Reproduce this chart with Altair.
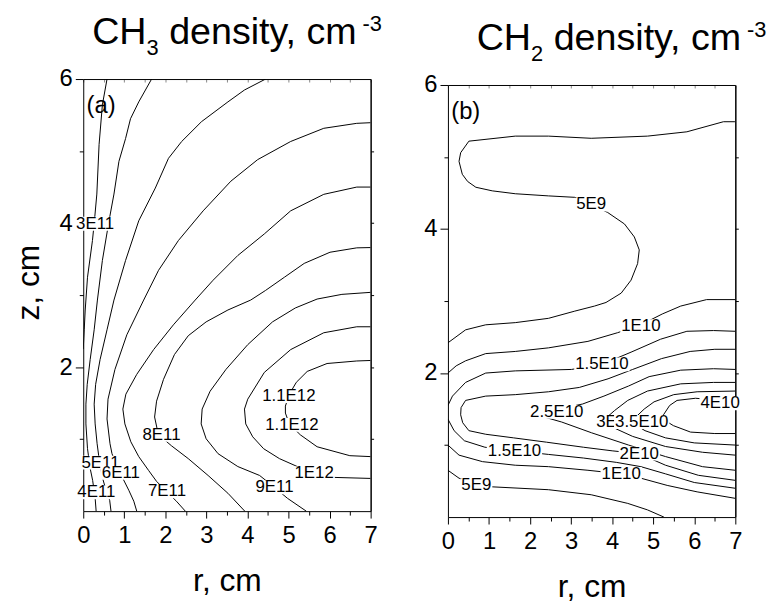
import altair as alt
import pandas as pd

# ---------------------------------------------------------------
# Contour lines of the two density maps, points given as (r, z) in cm
# ---------------------------------------------------------------

# CH3 density, panel (a)
ch3_3e11 = [(0.579, 6.0), (0.466, 5.642), (0.386, 5.092), (0.331, 4.403), (0.266, 3.991),
            (0.224, 3.757), (0.104, 3.248), (0.048, 2.793), (0.024, 2.518), (0.0, 2.25)]
ch3_4e11 = [(1.665, 6.0), (1.352, 5.683), (1.151, 5.449), (1.031, 5.174), (0.869, 4.857),
            (0.748, 4.403), (0.628, 4.032), (0.466, 3.481), (0.345, 2.931), (0.266, 2.518),
            (0.169, 2.105), (0.097, 1.761), (0.065, 1.486), (0.065, 1.211), (0.104, 0.867),
            (0.169, 0.592), (0.229, 0.427), (0.29, 0.179), (0.314, 0.0)]
ch3_5e11 = [(4.441, 6.0), (3.927, 5.848), (3.524, 5.683), (2.88, 5.408), (2.397, 5.133),
            (2.076, 4.899), (1.755, 4.486), (1.352, 4.032), (1.031, 3.481), (0.748, 2.931),
            (0.579, 2.518), (0.41, 2.105), (0.302, 1.761), (0.266, 1.486), (0.29, 1.211),
            (0.338, 0.936), (0.386, 0.729), (0.459, 0.482), (0.555, 0.289), (0.644, 0.151),
            (0.676, 0.0)]
ch3_6e11 = [(7.0, 5.394), (6.662, 5.385), (5.858, 5.316), (5.052, 5.133), (4.248, 4.881),
            (3.596, 4.582), (2.921, 4.17), (2.317, 3.757), (1.834, 3.344), (1.472, 2.931),
            (1.062, 2.449), (0.772, 1.968), (0.603, 1.555), (0.579, 1.28), (0.652, 0.936),
            (0.70, 0.798), (0.821, 0.619), (0.965, 0.454), (1.11, 0.289), (1.231, 0.138),
            (1.303, 0.0)]
ch3_7e11 = [(7.0, 4.50), (6.662, 4.50), (5.858, 4.399), (5.052, 4.17), (4.41, 3.849),
            (3.765, 3.55), (3.162, 3.206), (2.727, 2.931), (2.196, 2.587), (1.714, 2.243),
            (1.303, 1.899), (1.038, 1.624), (0.965, 1.417), (1.014, 1.211), (1.159, 0.963),
            (1.352, 0.757), (1.593, 0.564), (1.786, 0.413), (2.028, 0.275), (2.269, 0.138),
            (2.486, 0.0)]
ch3_8e11 = [(7.0, 3.66), (6.662, 3.656), (6.01, 3.595), (5.382, 3.44), (4.90, 3.248),
            (4.441, 3.065), (4.079, 2.931), (3.524, 2.793), (2.993, 2.628), (2.558, 2.436),
            (2.221, 2.174), (1.955, 1.83), (1.786, 1.527), (1.738, 1.307), (1.81, 1.114),
            (1.979, 0.99), (2.148, 0.908), (2.558, 0.729), (3.041, 0.495), (3.524, 0.248),
            (3.934, 0.0)]
ch3_9e11 = [(7.0, 3.038), (6.30, 3.01), (5.696, 2.945), (5.165, 2.821), (4.61, 2.628),
            (4.007, 2.312), (3.476, 1.968), (3.09, 1.665), (2.896, 1.417), (2.872, 1.211),
            (2.993, 1.005), (3.283, 0.798), (3.765, 0.619), (4.296, 0.495), (4.658, 0.33),
            (4.972, 0.179), (5.431, 0.0)]
ch3_1e12 = [(7.0, 2.56), (6.662, 2.56), (5.858, 2.477), (5.052, 2.243), (4.41, 1.926),
            (4.007, 1.555), (3.927, 1.417), (3.958, 1.211), (4.128, 1.032), (4.393, 0.867),
            (4.779, 0.729), (5.214, 0.619), (5.624, 0.523), (6.131, 0.468), (7.0, 0.454)]
ch3_11e12 = [(7.0, 2.092), (6.662, 2.085), (5.938, 2.05), (5.455, 1.94), (5.19, 1.789),
             (5.02, 1.624), (4.924, 1.459), (4.924, 1.362), (5.02, 1.211), (5.286, 1.06),
             (5.696, 0.894), (6.493, 0.77), (7.0, 0.757)]

ch3_lines = [ch3_3e11, ch3_4e11, ch3_5e11, ch3_6e11, ch3_7e11,
             ch3_8e11, ch3_9e11, ch3_1e12, ch3_11e12]

ch3_label_text = ["3E11", "4E11", "5E11", "6E11", "7E11", "8E11",
                  "9E11", "1E12", "1.1E12", "1.1E12"]
ch3_label_r = [0.29, 0.32, 0.42, 0.917, 2.04, 1.907, 4.658, 5.624, 5.008, 5.081]
ch3_label_z = [3.991, 0.26, 0.674, 0.53, 0.275, 1.06, 0.33, 0.523, 1.596, 1.197]
ch3_label_front = [False, False, False, True, False, False, False, False, False, False]

# CH2 density, panel (b)
ch2_5e9_up = [(6.99, 5.49), (6.71, 5.49), (5.82, 5.35), (4.86, 5.29), (3.49, 5.26),
              (2.45, 5.29), (1.64, 5.29), (0.51, 5.22), (0.31, 5.06), (0.27, 4.94),
              (0.35, 4.76), (0.48, 4.66), (0.68, 4.58), (1.08, 4.53), (1.64, 4.49),
              (2.45, 4.46), (3.09, 4.44), (3.89, 4.23), (4.30, 4.07), (4.54, 3.89),
              (4.66, 3.71), (4.62, 3.52), (4.46, 3.29), (4.22, 3.11), (3.85, 2.98),
              (3.57, 2.93), (3.09, 2.86), (2.45, 2.76), (1.64, 2.70), (0.92, 2.67),
              (0.43, 2.60), (0.0, 2.42)]
ch2_5e9_low = [(0.0, 0.65), (0.27, 0.54), (0.69, 0.45), (1.08, 0.42), (2.45, 0.38),
               (3.49, 0.31), (4.38, 0.19), (4.86, 0.10), (5.26, 0.0)]
ch2_1e10_up = [(0.0, 2.0), (0.2, 2.1), (0.43, 2.17), (0.92, 2.27), (1.64, 2.30),
               (2.45, 2.35), (3.41, 2.44), (4.13, 2.56), (4.70, 2.67), (5.22, 2.82),
               (5.67, 2.93), (6.3, 3.02), (7.0, 3.02)]
ch2_1e10_low = [(0.0, 1.0), (0.27, 0.86), (0.84, 0.77), (1.64, 0.72), (2.45, 0.70),
                (3.41, 0.65), (4.22, 0.60), (4.70, 0.54), (5.34, 0.44), (6.07, 0.35),
                (7.0, 0.26)]
ch2_15e10_up = [(0.0, 1.55), (0.11, 1.68), (0.43, 1.87), (0.92, 2.0), (1.64, 2.03),
                (3.01, 2.05), (3.75, 2.12), (4.46, 2.29), (5.18, 2.47), (5.82, 2.58),
                (6.47, 2.59), (7.0, 2.58)]
ch2_15e10_low = [(0.0, 1.36), (0.15, 1.2), (0.4, 1.06), (0.9, 0.97), (1.63, 0.92),
                 (2.45, 0.87), (3.3, 0.82), (4.1, 0.76), (4.7, 0.70), (5.3, 0.60),
                 (6.0, 0.48), (7.0, 0.40)]
ch2_2e10 = [(7.0, 2.33), (6.5, 2.33), (5.9, 2.3), (5.2, 2.2), (4.5, 2.05),
            (3.9, 1.92), (3.2, 1.8), (2.45, 1.74), (1.64, 1.70), (0.92, 1.68),
            (0.43, 1.62), (0.32, 1.52), (0.31, 1.42), (0.36, 1.31), (0.51, 1.2),
            (0.92, 1.15), (1.6, 1.1), (2.4, 1.04), (3.3, 0.97), (4.0, 0.92),
            (4.66, 0.88), (5.3, 0.72), (6.1, 0.58), (7.0, 0.51)]
ch2_25e10 = [(7.0, 2.05), (6.47, 2.06), (5.67, 2.04), (4.9, 1.95), (4.4, 1.82),
             (3.8, 1.68), (3.28, 1.57), (2.7, 1.5), (2.2, 1.45), (2.4, 1.38),
             (2.77, 1.32), (3.5, 1.17), (4.4, 1.0), (5.3, 0.84), (6.2, 0.70),
             (7.0, 0.65)]
ch2_3e10 = [(7.0, 1.87), (6.47, 1.87), (5.67, 1.85), (4.86, 1.75), (4.38, 1.62),
            (4.06, 1.48), (3.8, 1.35), (4.0, 1.25), (4.5, 1.12), (5.3, 0.98),
            (6.2, 0.90), (7.0, 0.86)]
ch2_35e10 = [(7.0, 1.75), (6.07, 1.74), (5.5, 1.70), (5.02, 1.60), (4.78, 1.50),
             (4.45, 1.32), (4.8, 1.2), (5.3, 1.1), (6.0, 1.03), (7.0, 1.0)]
ch2_4e10 = [(7.0, 1.62), (6.64, 1.62), (6.03, 1.65), (5.58, 1.62), (5.4, 1.55),
            (5.25, 1.42), (5.35, 1.32), (5.49, 1.27), (5.91, 1.18), (6.5, 1.16),
            (7.0, 1.16)]

ch2_lines = [ch2_5e9_up, ch2_5e9_low, ch2_1e10_up, ch2_1e10_low, ch2_15e10_up,
             ch2_15e10_low, ch2_2e10, ch2_25e10, ch2_3e10, ch2_35e10, ch2_4e10]

ch2_label_text = ["5E9", "5E9", "1E10", "1E10", "1.5E10", "1.5E10", "2E10",
                  "2.5E10", "3E10", "3.5E10", "4E10"]
ch2_label_r = [3.49, 0.69, 4.70, 4.22, 3.75, 1.62, 4.66, 2.65, 4.09, 4.72, 6.63]
ch2_label_z = [4.34, 0.44, 2.65, 0.60, 2.12, 0.92, 0.88, 1.46, 1.32, 1.32, 1.58]
ch2_label_front = [False, False, False, False, False, False, False, False, False, True, False]

# ---------------------------------------------------------------
# Layout constants (pixels)
# ---------------------------------------------------------------
W, H = 290, 436          # plot frame of each panel
DROP = 6                 # panel (b) frame sits a little lower
FONT = "Liberation Sans"
LABEL_SIZE = 17
PX_R = W / 7.0
PX_Z = H / 6.0

# advance widths (em) of the Arial-metric glyphs used in the labels
GLYPH_W = {".": 0.278, "E": 0.667}


def text_width(s, size):
    return sum(GLYPH_W.get(c, 0.556) for c in s) * size


def line_table(lines):
    rows = []
    for i, pts in enumerate(lines):
        for j, (r, z) in enumerate(pts):
            rows.append({"line": i, "k": j, "r": r, "z": z})
    return pd.DataFrame(rows)


def label_table(text, rs, zs, front):
    df = pd.DataFrame({"text": text, "r": rs, "z": zs, "front": front})
    half_w = df["text"].map(lambda s: (text_width(s, LABEL_SIZE) + 2) / 2 / PX_R)
    half_h = (LABEL_SIZE * 0.82) / 2 / PX_Z
    df["r1"], df["r2"] = df["r"] - half_w, df["r"] + half_w
    df["z1"], df["z2"] = df["z"] - half_h, df["z"] + half_h
    return df


def title_layers(sub, x0, y0, size=38, small=22):
    """Title built from pieces so the chemical index and exponent sit low/high."""
    x_sub = x0 + 1.444 * size
    x_mid = x_sub + 0.556 * small + 0.278 * size
    x_sup = x_mid + 5.057 * size + 3
    parts = [
        ("CH", x0, y0, size),
        (sub, x_sub, y0 + 11, small),
        ("density, cm", x_mid, y0, size),
        ("-3", x_sup, y0 - 13, small),
    ]
    out = []
    for txt, x, y, s in parts:
        out.append(
            alt.Chart(pd.DataFrame({"t": [txt]}))
            .mark_text(font=FONT, fontSize=s, align="left", baseline="alphabetic", color="black")
            .encode(text="t:N", x=alt.value(x), y=alt.value(y))
        )
    return out


def label_layers(df, xs, ys, axis_x=None, axis_y=None):
    boxes = (
        alt.Chart(df)
        .mark_rect(color="white")
        .encode(
            x=alt.X("r1:Q", scale=xs, axis=axis_x), x2="r2:Q",
            y=alt.Y("z1:Q", scale=ys, axis=axis_y), y2="z2:Q",
        )
    )
    texts = (
        alt.Chart(df)
        .mark_text(font=FONT, fontSize=LABEL_SIZE, color="black", baseline="middle")
        .encode(
            x=alt.X("r:Q", scale=xs, axis=None),
            y=alt.Y("z:Q", scale=ys, axis=None),
            text="text:N",
        )
    )
    return [boxes, texts]


def panel(lines, lab_text, lab_r, lab_z, lab_front, tag, sub, top, y_title, title_x):
    lines_df = line_table(lines)
    labels_df = label_table(lab_text, lab_r, lab_z, lab_front)
    total_h = H + DROP
    xs = alt.Scale(domain=[0, 7], nice=False, zero=False)
    ys = alt.Scale(domain=[0, 6], range=[top + H, top], nice=False, zero=False)
    half = [i * 0.5 for i in range(15)]

    x_bottom = alt.Axis(
        orient="bottom", values=half, offset=top + H - total_h,
        labelExpr="datum.value % 1 === 0 ? format(datum.value, 'd') : ''",
        labelOverlap=False, labelFlush=False,
        tickSize={"condition": {"test": "datum.value % 1 === 0", "value": 7}, "value": 4},
        labelFont=FONT, labelFontSize=24, labelColor="black", labelPadding=6,
        domainColor="black", tickColor="black", grid=False,
        title="r, cm", titleFont=FONT, titleFontSize=32, titleFontWeight="normal",
        titleColor="black", titlePadding=18,
    )
    y_left = alt.Axis(
        orient="left", values=[1, 2, 3, 4, 5, 6],
        labelExpr="datum.value % 2 === 0 ? format(datum.value, 'd') : ''",
        labelOverlap=False, labelFlush=False,
        tickSize={"condition": {"test": "datum.value % 2 === 0", "value": 8}, "value": 4},
        labelFont=FONT, labelFontSize=24, labelColor="black", labelPadding=3,
        domainColor="black", tickColor="black", grid=False,
        title=y_title, titleFont=FONT, titleFontSize=32, titleFontWeight="normal",
        titleColor="black", titlePadding=14, titleY=top + 205,
    )
    x_top = alt.Axis(
        orient="bottom", values=half, offset=top - total_h, labels=False,
        tickSize=3, tickColor="#888888", domainColor="black", grid=False, title=None,
    )
    y_right = alt.Axis(
        orient="right", values=[1, 2, 3, 4, 5], labels=False,
        tickSize=3, tickColor="black", domainColor="black", domainWidth=1.5,
        grid=False, title=None,
    )

    contour = (
        alt.Chart(lines_df)
        .mark_line(color="black", strokeWidth=1, clip=True)
        .encode(
            x=alt.X("r:Q", scale=xs, axis=x_bottom),
            y=alt.Y("z:Q", scale=ys, axis=y_left),
            detail="line:N",
            order="k:Q",
        )
    )
    back = labels_df[~labels_df["front"]]
    front = labels_df[labels_df["front"]]
    tag_mark = (
        alt.Chart(pd.DataFrame({"t": [tag], "r": [0.08], "z": [5.62]}))
        .mark_text(font=FONT, fontSize=24, align="left", baseline="middle", color="black")
        .encode(x=alt.X("r:Q", scale=xs, axis=None),
                y=alt.Y("z:Q", scale=ys, axis=None), text="t:N")
    )
    layers = ([contour]
              + label_layers(back, xs, ys, x_top, y_right)
              + label_layers(front, xs, ys)
              + [tag_mark]
              + title_layers(sub, title_x, top - 35))
    return (
        alt.layer(*layers)
        .resolve_axis(x="independent", y="independent")
        .properties(width=W, height=total_h)
    )


left = panel(ch3_lines, ch3_label_text, ch3_label_r, ch3_label_z, ch3_label_front,
             "(a)", "3", 0, "z, cm", 9)
right = panel(ch2_lines, ch2_label_text, ch2_label_r, ch2_label_z, ch2_label_front,
              "(b)", "2", DROP, None, 29)

chart = (
    alt.hconcat(left, right, spacing=78, bounds="flush")
    .configure_view(stroke=None)
    .properties(background="white", padding={"left": 12, "top": 11, "right": 5, "bottom": 5})
)

chart.save("out.html", embed_options={"renderer": "svg", "actions": False})
